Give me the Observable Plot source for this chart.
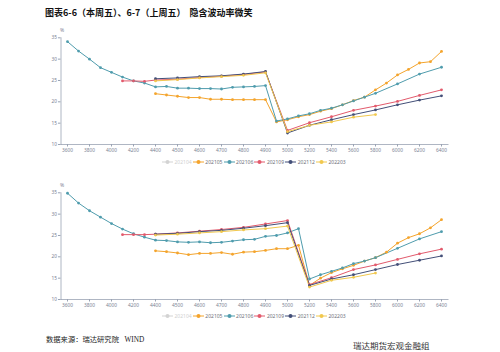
<!DOCTYPE html>
<html><head><meta charset="utf-8">
<script src="https://cdn.jsdelivr.net/npm/d3@7"></script>
<script src="https://cdn.jsdelivr.net/npm/@observablehq/plot@0.6"></script>
<style>
html,body{margin:0;padding:0;width:500px;height:352px;overflow:hidden;background:#fff;}
#wrap{position:relative;width:500px;height:352px;font-family:"Noto Sans CJK SC","Noto Sans",sans-serif;overflow:hidden;}
.abs{position:absolute;}
.title{left:45px;top:6px;font-size:9px;font-weight:bold;color:#111;white-space:nowrap;}
.foot{left:46px;top:334px;font-size:7.3px;color:#222;white-space:nowrap;font-family:"Liberation Serif","Noto Sans CJK SC",serif;}
.mark{left:353px;top:341px;font-size:8.5px;line-height:10px;color:#333;white-space:nowrap;font-family:"Liberation Serif","Noto Sans CJK SC",serif;}
.legend{display:flex;left:162px;height:8px;align-items:center;font-size:5px;color:#6e7079;font-family:"Noto Sans",sans-serif;}
.item{width:30.8px;display:flex;align-items:center;white-space:nowrap;}
.item svg{margin-right:1.5px;}
</style></head>
<body><div id="wrap">
<div class="abs title">图表6-6（本周五）、6-7（上周五） &nbsp;隐含波动率微笑</div>
<div class="abs" id="c1" style="left:0;top:20px;"></div>
<div class="abs legend" id="l1" style="top:158px;"></div>
<div class="abs" id="c2" style="left:0;top:175px;"></div>
<div class="abs legend" id="l2" style="top:312px;"></div>
<div class="abs foot">数据来源：瑞达研究院 &nbsp;&nbsp;WIND</div>
<div class="abs mark">瑞达期货宏观金融组</div>
</div>
<script>
// strike categories on the x axis
const cats = [3600,3700,3800,3900,4000,4100,4200,4300,4400,4450,4500,4550,4600,4650,4700,4750,4800,4850,4900,4950,5000,5100,5200,5300,5400,5500,5600,5700,5800,5900,6000,6100,6200,6300,6400];
const xTicks = [3600,3800,4000,4200,4400,4500,4600,4700,4800,4900,5000,5200,5400,5600,5800,6000,6200,6400];
const yTicks = [10,15,20,25,30,35];

const legendNames = ["202104","202105","202106","202109","202112","202203"];
const legendColors = ["#d3d3d3","#f4a42c","#4f9cad","#e25a6c","#434f78","#f1c84e"];
const seriesNames = ["202105","202106","202109","202112","202203"];
const seriesColors = ["#f4a42c","#4f9cad","#e25a6c","#434f78","#f1c84e"];

// strikes per series
const strikes202106 = [3600,3700,3800,3900,4000,4100,4200,4300,4400,4450,4500,4550,4600,4650,4700,4750,4800,4850,4900,4950,5000,5100,5200,5300,5400,5500,5600,5700,5800,6000,6200,6400];
const strikes202105 = [4400,4450,4500,4550,4600,4650,4700,4750,4800,4850,4900,4950,5000,5100,5200,5300,5400,5500,5600,5700,5800,5900,6000,6100,6200,6300,6400];
const strikes202109 = [4100,4200,4300,4400,4500,4600,4700,4800,4900,5000,5200,5400,5600,5800,6000,6200,6400];
const strikes202112 = [4400,4500,4600,4700,4800,4900,5000,5200,5400,5600,5800,6000,6200,6400];
const strikes202203 = [4400,4500,4600,4700,4800,4900,5000,5200,5400,5600,5800];

// this Friday (6-6)
const thisWeek202105 = [21.9,21.6,21.3,21.0,21.0,20.6,20.6,20.5,20.5,20.5,20.5,15.3,15.8,16.5,17.0,17.8,18.4,19.3,20.3,21.1,22.8,24.4,26.3,27.6,29.1,29.4,31.8];
const thisWeek202106 = [34.1,31.9,30.0,28.0,26.9,25.8,24.9,24.4,23.5,23.6,23.2,23.2,23.1,23.1,23.0,23.4,23.5,23.6,23.8,15.5,16.0,16.7,17.2,18.0,18.5,19.3,20.2,21.1,22.0,24.2,26.5,28.1];
const thisWeek202109 = [24.9,24.9,24.8,25.1,25.3,25.7,26.0,26.4,27.0,13.3,15.1,16.5,18.0,19.0,20.1,21.5,22.8];
const thisWeek202112 = [25.4,25.6,25.9,26.1,26.5,27.1,12.7,14.5,15.8,17.0,18.1,19.3,20.4,21.4];
const thisWeek202203 = [24.9,25.2,25.6,25.9,26.2,26.8,13.0,14.5,15.3,16.4,17.0];

// last Friday (6-7)
const lastWeek202105 = [21.4,21.2,20.9,20.5,20.8,20.8,21.0,20.6,21.1,21.2,21.5,21.9,21.9,22.7,13.3,15.0,16.3,17.2,18.0,19.0,19.8,21.1,23.2,24.5,25.4,26.8,28.7];
const lastWeek202106 = [34.9,32.6,30.8,29.3,27.8,26.5,25.4,24.6,23.9,23.8,23.5,23.4,23.5,23.3,23.4,23.7,24.0,24.1,24.8,25.0,25.6,26.6,14.8,15.8,16.6,17.4,18.4,19.0,19.8,22.0,24.2,25.9];
const lastWeek202109 = [25.2,25.2,25.2,25.3,25.6,26.0,26.4,26.9,27.7,28.5,13.5,15.1,17.0,18.1,19.4,20.7,21.8];
const lastWeek202112 = [25.3,25.5,25.9,26.2,26.7,27.3,28.0,13.3,14.8,15.8,17.0,18.2,19.2,20.2];
const lastWeek202203 = [25.1,25.3,25.6,25.9,26.3,26.6,27.2,12.9,14.5,15.2,16.2];

function rows(spec) {
  const out = [];
  for (const [name, ks, vs] of spec) ks.forEach((k, i) => out.push({series: name, strike: k, iv: vs[i]}));
  return out;
}
const data1 = rows([
  ["202105", strikes202105, thisWeek202105],
  ["202106", strikes202106, thisWeek202106],
  ["202109", strikes202109, thisWeek202109],
  ["202112", strikes202112, thisWeek202112],
  ["202203", strikes202203, thisWeek202203]
]);
const data2 = rows([
  ["202105", strikes202105, lastWeek202105],
  ["202106", strikes202106, lastWeek202106],
  ["202109", strikes202109, lastWeek202109],
  ["202112", strikes202112, lastWeek202112],
  ["202203", strikes202203, lastWeek202203]
]);

const axisColor = "#9aa3b4";
const labelColor = "#7a8294";

function chart(data) {
  return Plot.plot({
    width: 500, height: 150,
    marginLeft: 60.5, marginRight: 52.5, marginTop: 17.3, marginBottom: 26,
    style: {fontSize: "4.8px", fontFamily: "Noto Sans, sans-serif", background: "transparent", overflow: "visible"},
    x: {type: "point", domain: cats, padding: 0.5},
    y: {domain: [10, 35]},
    color: {domain: seriesNames, range: seriesColors},
    marks: [
      Plot.frame({anchor: "bottom", stroke: axisColor, strokeWidth: 0.8}),
      Plot.frame({anchor: "left", stroke: axisColor, strokeWidth: 0.8}),
      Plot.axisX({ticks: xTicks, tickFormat: d => String(d), tickSize: 2.5, tickPadding: 1.5, stroke: axisColor, fill: labelColor, label: null}),
      Plot.axisY({ticks: yTicks, tickFormat: d => String(d), tickSize: 2.5, tickPadding: 1.5, stroke: axisColor, fill: labelColor, label: null}),
      Plot.text(["%"], {frameAnchor: "top-left", dy: -9, dx: -1, fill: labelColor, fontSize: 5}),
      Plot.line(data, {x: "strike", y: "iv", z: "series", stroke: "series", strokeWidth: 1}),
      Plot.dot(data, {x: "strike", y: "iv", fill: "series", r: 1.4})
    ]
  });
}
document.getElementById("c1").append(chart(data1));
document.getElementById("c2").append(chart(data2));

function legend(el) {
  legendNames.forEach((n, i) => {
    const it = document.createElement("div");
    it.className = "item";
    const c = legendColors[i];
    it.innerHTML = `<svg width="11" height="6"><line x1="0" y1="3" x2="11" y2="3" stroke="${c}" stroke-width="1"/><circle cx="5.5" cy="3" r="2" fill="${c}"/></svg><span style="color:${i===0?'#d0d0d0':'#6e7079'}">${n}</span>`;
    el.append(it);
  });
}
legend(document.getElementById("l1"));
legend(document.getElementById("l2"));
</script>
</body></html>
